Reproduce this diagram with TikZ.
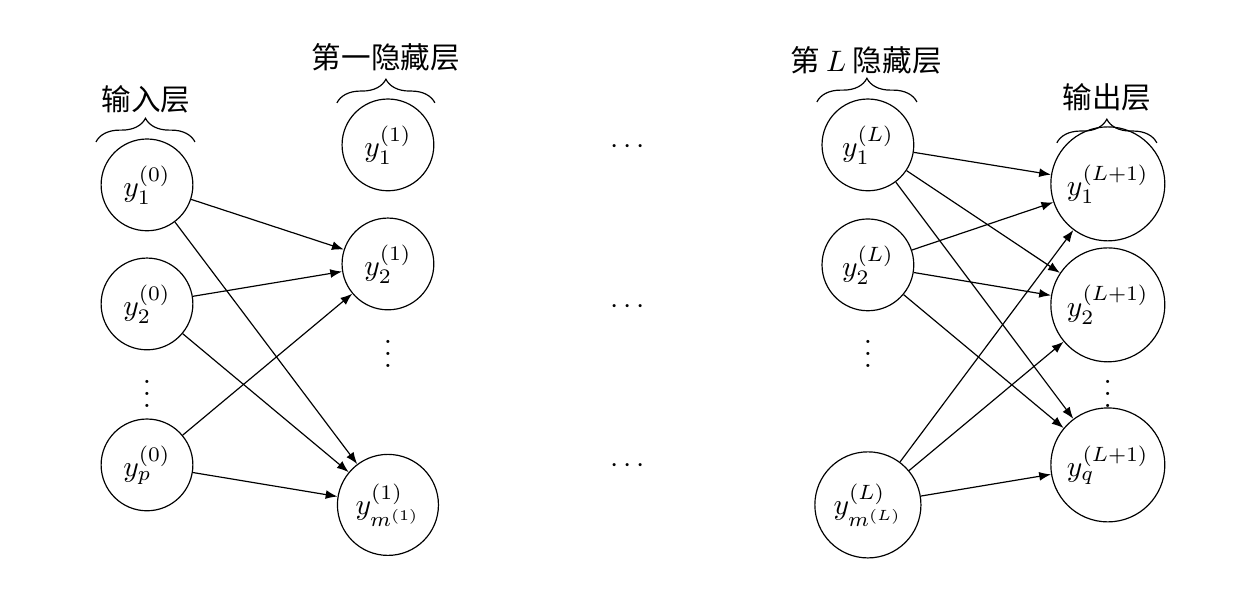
\documentclass[tikz,border=0pt]{standalone}
\usepackage{fontspec}
\newfontfamily\cjk{Noto Sans CJK SC}
\usetikzlibrary{arrows.meta,decorations.pathreplacing}
\tikzset{
  neuron/.style={circle, draw, inner sep=0pt, minimum size=1.09cm},
  bigneuron/.style={neuron, minimum size=#1},
  dotsnode/.style={inner sep=0pt},
  layerbrace/.style={decorate, decoration={brace, amplitude=8pt}},
  layertitle/.style={font=\cjk},
}
\begin{document}
\begin{tikzpicture}[>={Latex[length=4pt,width=3pt]}]
      \useasboundingbox (0,0) rectangle (14.8,7.03);
      \draw
        (1.746,4.834) node[neuron] (i1){$y_1^{(0)}$}
        (1.746,3.420) node[neuron] (i2){$y_2^{(0)}$}
        (1.746,2.457) node[dotsnode] (iv){$\vdots$}
        (1.746,1.508) node[neuron] (ip){$y_p^{(0)}$}
        (4.608,5.309) node[neuron] (a1){$y_1^{(1)}$}
        (4.608,3.895) node[neuron] (a2){$y_2^{(1)}$}
        (4.608,2.930) node[dotsnode] (av){$\vdots$}
        (4.608,1.033) node[bigneuron=1.2cm] (am){$y_{m^{(1)}}^{(1)}$}
        (7.458,5.290) node[dotsnode] (d1){$\cdots$}
        (7.458,3.390) node[dotsnode] (d2){$\cdots$}
        (7.458,1.490) node[dotsnode] (d3){$\cdots$}
        (10.309,5.309) node[neuron] (l1){$y_1^{(L)}$}
        (10.309,3.884) node[neuron] (l2){$y_2^{(L)}$}
        (10.309,2.930) node[dotsnode] (lv){$\vdots$}
        (10.309,1.033) node[bigneuron=1.26cm] (lm){$y_{m^{(L)}}^{(L)}$}
        (13.159,4.846) node[bigneuron=1.354cm] (o1){$y_1^{(L+1)}$}
        (13.159,3.409) node[bigneuron=1.354cm] (o2){$y_2^{(L+1)}$}
        (13.159,2.457) node[dotsnode] (ov){$\vdots$}
        (13.159,1.508) node[bigneuron=1.354cm] (oq){$y_q^{(L+1)}$};
      % layer titles
      \draw[layerbrace] (1.140,5.344) -- (2.316,5.344);
      \draw[layerbrace] (4.002,5.808) -- (5.166,5.808);
      \draw[layerbrace] (9.703,5.819) -- (10.891,5.819);
      \draw[layerbrace] (12.553,5.333) -- (13.741,5.333);
      \node[layertitle] (ti) at (1.734,5.855) {输入层};
      \node[layertitle] (ta) at (4.584,6.354) {第一隐藏层};
      \node[layertitle] (tl) at (10.285,6.318) {第 $L$ 隐藏层};
      \node[layertitle] (to) at (13.147,5.879) {输出层};
      \begin{scope}[->]
        \draw (i1) to (a2);
        \draw (i1) to (am);
        \draw (i2) to (a2);
        \draw (i2) to (am);
        \draw (ip) to (a2);
        \draw (ip) to (am);
        \draw (l1) to (o1);
        \draw (l1) to (o2);
        \draw (l1) to (oq);
        \draw (l2) to (o1);
        \draw (l2) to (o2);
        \draw (l2) to (oq);
        \draw (lm) to (o1);
        \draw (lm) to (o2);
        \draw (lm) to (oq);
      \end{scope}
    \end{tikzpicture}
\end{document}
